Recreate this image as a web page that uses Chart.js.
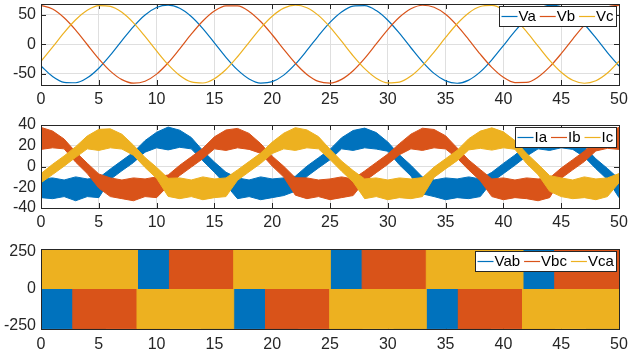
<!DOCTYPE html>
<html>
<head>
<meta charset="utf-8">
<script src="https://cdn.jsdelivr.net/npm/chart.js@4.4.1/dist/chart.umd.min.js"></script>
<style>
  body { margin: 0; background: #fff; }
  #wrap { position: relative; width: 630px; height: 360px; background: #fff; }
  canvas { position: absolute; left: 0; }
</style>
</head>
<body>
<div id="wrap">
  <canvas id="c1" width="630" height="112" style="top:0px"></canvas>
  <canvas id="c2" width="630" height="124" style="top:112px"></canvas>
  <canvas id="c3" width="630" height="124" style="top:236px"></canvas>
</div>
<script>
// time in ms, one sample per ms
const t = [];
for (let i = 0; i <= 50; i++) t.push(i);

// phase voltages
const va = [-36.9, -54.5, -64.4, -65.2, -56.9, -40.6, -18.6, 6.0, 29.8, 49.4, 62.0, 66.0, 60.7, 46.8, 26.4, 2.3, -22.1,
  -43.5, -58.7, -65.7, -63.4, -52.3, -33.8, -10.6, 14.2, 36.9, 54.5, 64.4, 65.2, 56.9, 40.6, 18.6, -6.0, -29.8,
  -49.4, -62.0, -66.0, -60.7, -46.8, -26.4, -2.3, 22.1, 43.5, 58.7, 65.7, 63.4, 52.3, 33.8, 10.6, -14.2, -36.9];
const vb = [65.8, 59.5, 44.8, 23.9, -0.5, -24.7, -45.5, -59.9, -65.9, -62.6, -50.6, -31.4, -7.8, 16.9, 39.2, 56.0, 64.9,
  64.7, 55.5, 38.4, 16.0, -8.7, -32.2, -51.1, -62.9, -65.8, -59.5, -44.8, -23.9, 0.5, 24.7, 45.5, 59.9, 65.9,
  62.6, 50.6, 31.4, 7.8, -16.9, -39.2, -56.0, -64.9, -64.7, -55.5, -38.4, -16.0, 8.7, 32.2, 51.1, 62.9, 65.8];
const vc = [-28.9, -5.0, 19.6, 41.3, 57.4, 65.3, 64.1, 53.9, 36.1, 13.2, -11.4, -34.6, -52.9, -63.7, -65.6, -58.3, -42.8,
  -21.2, 3.2, 27.3, 47.4, 61.0, 66.0, 61.7, 48.7, 28.9, 5.0, -19.6, -41.3, -57.4, -65.3, -64.1, -53.9, -36.1,
  -13.2, 11.4, 34.6, 52.9, 63.7, 65.6, 58.3, 42.8, 21.2, -3.2, -27.3, -47.4, -61.0, -66.0, -61.7, -48.7, -28.9];

// phase currents: upper and lower edge of the noisy band
const iaHi = [-12, -11, -13, -10, -12, -11, -2.4, 5.7, 13.8, 25, 33, 38, 35, 28, 15.3, 4.3, -5.5,
  -11, -13, -10, -12, -11, -9.4, 0.3, 8.4, 16.5, 27.7, 34.7, 37, 32.7, 23.6, 11.3, 1.2, -10.2,
  -13, -11, -12, -10, -12, -5.6, 3.0, 11.1, 20.6, 30.3, 36.3, 36, 30.3, 19.2, 7.4, -1.9, -12];
const iaLo = [-30, -31, -29, -33, -29, -30, -12.4, -4.1, 3.8, 13.8, 18, 16, 18.5, 17, 5.5, -5.6, -17.8,
  -31, -29, -32, -30, -28, -23.8, -9.6, -1.4, 6.5, 17, 15.5, 18, 16.8, 14.7, 1.7, -9.1, -26.4,
  -29, -32, -30, -31, -29, -14.9, -6.9, 1.2, 10, 17, 15.5, 18, 16.5, 9.2, -2.1, -12.6, -30];
const ibHi = [37.7, 34.2, 26.5, 14, 3.2, -7.2, -11, -13, -11, -12, -10, -8.2, 1.2, 9.3, 17.6, 28.6, 35.2,
  36.7, 31.9, 22.1, 10, 0.2, -10.8, -11, -13, -12, -10, -12, -4.3, 3.9, 12, 22, 31.2, 36.9,
  35.7, 29.6, 17.9, 6.3, -2.9, -12, -11, -13, -11, -12, -11, -1.5, 6.6, 14.7, 25.9, 33.6, 37.7];
const ibLo = [16.5, 18, 17, 4.2, -6.8, -20.8, -29, -31, -33, -29, -30, -18.6, -8.7, -0.6, 7.5, 17, 15.5,
  18, 16.5, 12.7, 0.4, -10.2, -27.6, -31, -29, -32, -30, -28, -14.1, -6, 2.1, 11.3, 17, 15.5,
  18, 16.9, 8, -3.3, -13.7, -29, -32, -30, -31, -33, -30, -11.4, -3.2, 4.7, 15, 17.5, 16.5];
const icHi = [-6.8, 2.1, 10.2, 19.1, 29.4, 35.8, 36.3, 31.1, 20.6, 8.7, -0.8, -11.4, -11, -13, -10, -12, -11,
  -3.3, 4.8, 12.9, 23.5, 32.1, 37.4, 35.3, 28.8, 16.6, 5.3, -3.9, -12, -11, -13, -11, -12, -10.7,
  -0.6, 7.5, 15.6, 26.8, 34.1, 37.3, 33.4, 25, 12.7, 2.2, -8.8, -11, -13, -10, -12, -11, -6.8];
const icLo = [-15.6, -7.8, 0.3, 8.8, 17, 15.5, 18, 16.8, 10.8, -0.9, -11.4, -28.8, -31, -29, -32, -30, -29,
  -13.3, -5.1, 2.9, 12.5, 17, 15.5, 18, 17, 6.7, -4.5, -14.9, -31, -29, -32, -30, -31, -29,
  -10.5, -2.3, 5.6, 16, 17.5, 15.8, 18, 16.6, 2.9, -7.9, -23.9, -29, -31, -30, -32, -29, -15.6];

// line voltages (PWM blocks), switching instants in ms
const vabT = [0, 5.56, 5.56, 13.89, 13.89, 22.22, 22.22, 30.56, 30.56, 38.89, 38.89, 47.22, 47.22, 50];
const vabV = [-268, -268, 268, 268, -268, -268, 268, 268, -268, -268, 268, 268, -268, -268];
const vbcT = [0, 2.78, 2.78, 11.11, 11.11, 19.44, 19.44, 27.78, 27.78, 36.11, 36.11, 44.44, 44.44, 50];
const vbcV = [268, 268, -268, -268, 268, 268, -268, -268, 268, 268, -268, -268, 268, 268];
const vcaT = [0, 8.33, 8.33, 16.67, 16.67, 25, 25, 33.33, 33.33, 41.67, 41.67, 50];
const vcaV = [268, 268, -268, -268, 268, 268, -268, -268, 268, 268, -268, -268];

const yTicks1 = [-50, 0, 50];
const yTicks2 = [-40, -20, 0, 20, 40];
const yTicks3 = [-250, 0, 250];

const BLUE = '#0072BD', RED = '#D95319', YELLOW = '#EDB120';
const AXIS = '#262626', GRID = '#dfdfdf';
const FONT = "'Liberation Sans', Arial, sans-serif";

function xy(xs, ys) {
    return xs.map((x, i) => ({x: x, y: ys[i]}));
}

// box round the plot area and inward tick marks (MATLAB look)
const frame = {
    id: 'frame',
    beforeDatasetsDraw(chart) {
        const {ctx, chartArea: a, scales} = chart;
        ctx.save();
        ctx.strokeStyle = AXIS;
        ctx.lineWidth = 1;
        ctx.beginPath();
        scales.x.ticks.forEach(tk => {
            const px = Math.round(scales.x.getPixelForValue(tk.value)) + 0.5;
            ctx.moveTo(px, a.bottom); ctx.lineTo(px, a.bottom - 5);
            ctx.moveTo(px, a.top); ctx.lineTo(px, a.top + 5);
        });
        scales.y.ticks.forEach(tk => {
            const py = Math.round(scales.y.getPixelForValue(tk.value)) + 0.5;
            ctx.moveTo(a.left, py); ctx.lineTo(a.left + 5, py);
            ctx.moveTo(a.right, py); ctx.lineTo(a.right - 5, py);
        });
        ctx.stroke();
        ctx.restore();
    },
    afterDatasetsDraw(chart) {
        const {ctx, chartArea: a} = chart;
        ctx.save();
        ctx.strokeStyle = AXIS;
        ctx.lineWidth = 1;
        ctx.strokeRect(Math.round(a.left) + 0.5, Math.round(a.top) + 0.5,
            Math.round(a.right - a.left), Math.round(a.bottom - a.top));
        ctx.restore();
    }
};

// legend box in the top right corner, inside the axes
const legendBox = {
    id: 'legendBox',
    afterDraw(chart) {
        const {ctx, chartArea: a} = chart;
        const items = chart.data.datasets.filter(d => d.inLegend !== false);
        const lineLen = 16, gap = 1, sep = 4, padL = 2, padR = 3, h = 20;
        ctx.save();
        ctx.font = '15px ' + FONT;
        let w = padL + padR;
        items.forEach((d, i) => {
            w += lineLen + gap + ctx.measureText(d.label).width + (i ? sep : 0);
        });
        w = Math.round(w);
        const right = Math.round(a.right) - 3;
        const top = Math.round(a.top) + 2;
        const left = right - w;
        ctx.fillStyle = '#fff';
        ctx.fillRect(left, top, w, h);
        ctx.strokeStyle = AXIS;
        ctx.lineWidth = 1;
        ctx.strokeRect(left + 0.5, top + 0.5, w, h);
        let x = left + padL + 0.5;
        const cy = top + h / 2 + 0.5;
        items.forEach((d, i) => {
            if (i) x += sep;
            ctx.beginPath();
            ctx.strokeStyle = d.keyColor;
            ctx.lineWidth = 1.2;
            ctx.moveTo(x, cy);
            ctx.lineTo(x + lineLen, cy);
            ctx.stroke();
            x += lineLen + gap;
            ctx.fillStyle = '#000';
            ctx.textBaseline = 'middle';
            ctx.fillText(d.label, x, cy + 0.5);
            x += ctx.measureText(d.label).width;
        });
        ctx.restore();
    }
};

function makeOptions(o) {
    const tickFont = {family: FONT, size: 16};
    return {
        responsive: false,
        animation: false,
        events: [],
        layout: {padding: {left: 0, right: 11, top: o.top, bottom: 0}},
        plugins: {legend: {display: false}, tooltip: {enabled: false}},
        elements: {point: {radius: 0}},
        scales: {
            x: {
                type: 'linear', min: 0, max: 50,
                ticks: {stepSize: 5, padding: o.xPad, color: AXIS, font: tickFont, maxRotation: 0, autoSkip: false},
                grid: {color: GRID, drawTicks: false},
                border: {display: false},
                afterFit: s => { s.height = o.xHeight; s.paddingLeft = 0; s.paddingRight = 0; }
            },
            y: {
                min: o.min, max: o.max,
                afterBuildTicks: s => { s.ticks = o.yTicks.map(v => ({value: v})); },
                ticks: {padding: 5, color: AXIS, font: tickFont, autoSkip: false},
                grid: {color: GRID, drawTicks: false},
                border: {display: false},
                afterFit: s => { s.width = 41; s.paddingTop = 0; s.paddingBottom = 0; }
            }
        }
    };
}

function line(label, ys, color, order) {
    return {label: label, keyColor: color, data: xy(t, ys), borderColor: color, borderWidth: 1.2,
        cubicInterpolationMode: 'monotone', fill: false, order: order};
}

function band(label, hi, lo, color, order) {
    return [
        {label: label, keyColor: color, data: xy(t, hi), borderColor: color, backgroundColor: color,
            borderWidth: 1, tension: 0, fill: '+1', order: order},
        {label: label + ' low', inLegend: false, data: xy(t, lo), borderColor: color,
            borderWidth: 1, tension: 0, fill: false, order: order}
    ];
}

function block(label, xs, ys, color, order) {
    return {label: label, keyColor: color, data: xy(xs, ys), borderColor: color, backgroundColor: color,
        borderWidth: 1, tension: 0, fill: 'origin', order: order};
}

new Chart(document.getElementById('c1'), {
    type: 'line',
    data: {datasets: [line('Va', va, BLUE, 3), line('Vb', vb, RED, 2), line('Vc', vc, YELLOW, 1)]},
    options: makeOptions({top: 4, xHeight: 27, xPad: 5, min: -69, max: 68, yTicks: yTicks1}),
    plugins: [frame, legendBox]
});

new Chart(document.getElementById('c2'), {
    type: 'line',
    data: {datasets: [].concat(
        band('Ia', iaHi, iaLo, BLUE, 3),
        band('Ib', ibHi, ibLo, RED, 2),
        band('Ic', icHi, icLo, YELLOW, 1))},
    options: makeOptions({top: 13, xHeight: 28, xPad: 5, min: -40, max: 40, yTicks: yTicks2}),
    plugins: [frame, legendBox]
});

new Chart(document.getElementById('c3'), {
    type: 'line',
    data: {datasets: [
        block('Vab', vabT, vabV, BLUE, 3),
        block('Vbc', vbcT, vbcV, RED, 2),
        block('Vca', vcaT, vcaV, YELLOW, 1)]},
    options: makeOptions({top: 13, xHeight: 31, xPad: 6, min: -270, max: 270, yTicks: yTicks3}),
    plugins: [frame, legendBox]
});
</script>
</body>
</html>
